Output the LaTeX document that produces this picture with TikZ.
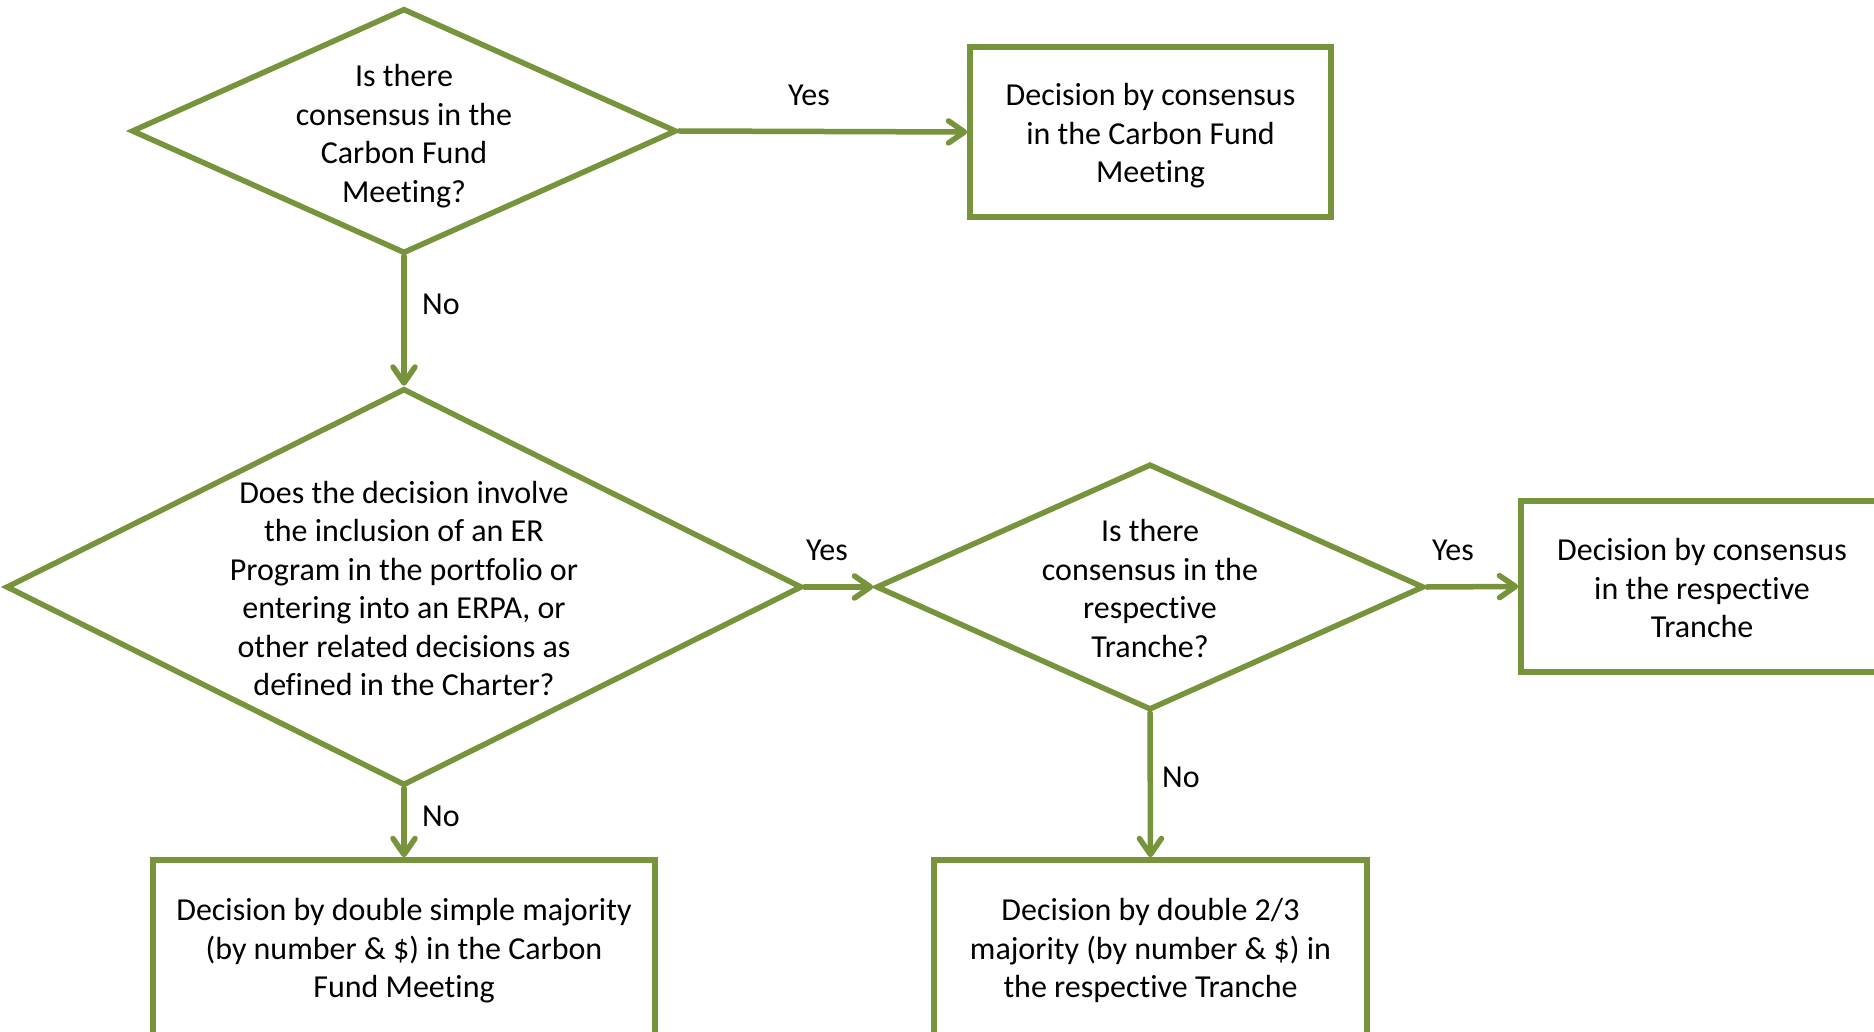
\documentclass[tikz,border=0pt]{standalone}
\usepackage{fontspec}
\setmainfont{Carlito}[Ligatures=NoCommon]
\usetikzlibrary{shapes.geometric,arrows.meta}
\definecolor{olivegreen}{HTML}{77933C}
\begin{document}
\begin{tikzpicture}[x=1pt,y=-1pt,
  every node/.style={font=\fontsize{32}{38.5}\selectfont},
  question/.style={diamond,draw=olivegreen,line width=5.5pt,inner sep=0pt,line join=miter},
  outcome/.style={rectangle,draw=olivegreen,line width=5.5pt,inner sep=0pt},
  txt/.style={align=center,inner sep=0pt},
  lbl/.style={inner sep=0pt},
  arr/.style={draw=olivegreen,line width=5.5pt,line cap=round,
    -{Straight Barb[length=16pt,width=22pt,line cap=round,line join=round]}}
]
\fill[white] (0,0) rectangle (1874,1032);
\useasboundingbox (0,0) rectangle (1874,1032);

% decision diamonds
\node[question,minimum width=545pt,minimum height=245pt] (d1) at (404,131) {};
\node[txt,yshift=-5pt] (t1) at (d1.center) {Is there\\consensus in the\\Carbon Fund\\Meeting?};

\node[question,minimum width=796pt,minimum height=397pt] (d2) at (404,587) {};
\node[txt,yshift=-1.5pt] (t2) at (d2.center) {Does the decision involve\\the inclusion of an ER\\Program in the portfolio or\\entering into an ERPA, or\\other related decisions as\\defined in the Charter?};

\node[question,minimum width=548pt,minimum height=246pt] (d3) at (1150,587) {};
\node[txt,yshift=-1.5pt] (t3) at (d3.center) {Is there\\consensus in the\\respective\\Tranche?};

% outcome boxes
\node[outcome,minimum width=361pt,minimum height=170pt] (b1) at (1150.5,132) {};
\node[txt,yshift=-4pt] (t4) at (b1.center) {Decision by consensus\\in the Carbon Fund\\Meeting};

\node[outcome,minimum width=362pt,minimum height=171pt] (b2) at (1702,586.5) {};
\node[txt,yshift=-2pt] (t5) at (b2.center) {Decision by consensus\\in the respective\\Tranche};

\node[outcome,minimum width=502pt,minimum height=176pt] (b3) at (404,948) {};
\node[txt,yshift=-3pt] (t6) at (b3.center) {Decision by double simple majority\\(by number \& \$) in the Carbon\\Fund Meeting};

\node[outcome,minimum width=433pt,minimum height=176pt] (b4) at (1150.5,948) {};
\node[txt,yshift=-2.5pt] (t7) at (b4.center) {Decision by double 2/3\\majority (by number \& \$) in\\the respective Tranche};

% connectors
\draw[arr] (d1.east) -- (b1.west);
\draw[arr] (d1.south) -- (d2.north);
\draw[arr] (d2.east) -- (d3.west);
\draw[arr] (d3.east) -- (b2.west);
\draw[arr] (d2.south) -- (b3.north);
\draw[arr] (d3.south) -- (b4.north);

% branch labels
\node[lbl] (y1) at (809,95) {Yes};
\node[lbl] (n1) at (441,304) {No};
\node[lbl] (y2) at (827,550) {Yes};
\node[lbl] (y3) at (1453,550) {Yes};
\node[lbl] (n2) at (441,816) {No};
\node[lbl] (n3) at (1181,777) {No};
\end{tikzpicture}
\end{document}
